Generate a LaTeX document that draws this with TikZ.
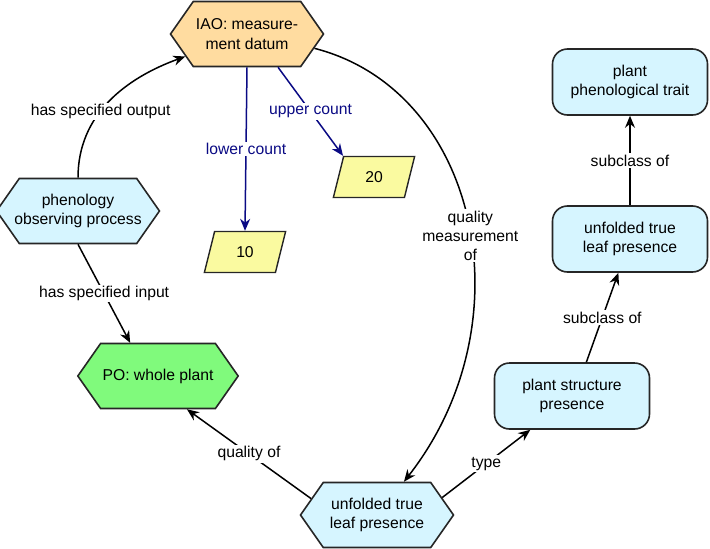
\documentclass[tikz,border=0pt]{standalone}
\usepackage{fontspec}
\setmainfont{Liberation Sans}
\usetikzlibrary{arrows.meta, shapes.geometric, shapes.symbols}
\definecolor{poorange}{HTML}{FFDCA0}
\definecolor{poblue}{HTML}{D6F5FF}
\definecolor{pogreen}{HTML}{80FA7C}
\definecolor{poyellow}{HTML}{FAFAA0}
\definecolor{ponavy}{HTML}{0A0A84}
\begin{document}
\begin{tikzpicture}[
  x=1pt, y=1pt,
  every node/.style={font=\fontsize{15.7}{19.3}\selectfont},
  hexbox/.style={signal, signal to=east and west, signal pointer angle=110, draw=black!85, line width=1.6pt, fill=#1, minimum width=153pt, minimum height=65pt, align=center, inner sep=2pt},
  roundbox/.style={rectangle, rounded corners=15pt, draw=black!85, line width=1.6pt, fill=poblue, minimum width=155pt, minimum height=66pt, align=center},
  valbox/.style={trapezium, trapezium left angle=76, trapezium right angle=104, draw=black!85, line width=1.4pt, fill=poyellow, minimum width=64pt, minimum height=41pt, inner sep=1pt},
  rel/.style={-{Stealth[length=12pt, width=10pt]}, line width=1.5pt},
  lbl/.style={fill=white, inner sep=1.5pt, align=center},
]
\useasboundingbox (0,0) rectangle (710,-549);

% Process side
\node[hexbox=poorange] (iao) at (247,-34) {IAO: measure-\\ment datum};
\node[hexbox=poblue, inner xsep=-5pt] (pheno) at (78,-211) {phenology\\observing process};
\node[hexbox=pogreen] (po) at (158,-376) {PO: whole plant};

% Counts
\node[valbox] (ten) at (245,-252) {10};
\node[valbox] (twenty) at (374,-177) {20};

% Quality and classes
\node[hexbox=poblue] (leafhex) at (377,-515) {unfolded true\\leaf presence};
\node[roundbox] (struct) at (572,-396) {plant structure\\presence};
\node[roundbox] (leafbox) at (630,-239) {unfolded true\\leaf presence};
\node[roundbox] (trait) at (630,-82) {plant\\phenological trait};

% Connections
\draw[rel] (pheno.north) to[out=90, in=200] node[lbl, pos=0.42] {has specified output} (iao);
\draw[rel] (pheno.south) -- node[lbl] {has specified input} (po.130);
\draw[rel, ponavy] (iao.south) -- node[lbl, text=ponavy] {lower count} (ten.north);
\draw[rel, ponavy] (iao.-47) -- node[lbl, text=ponavy] {upper count} (twenty.top left corner);
\draw[rel] (iao.-12) .. controls +(164,-42) and +(125,160) .. node[lbl, pos=0.53] {quality\\measurement\\of} (leafhex.51);
\draw[rel] (leafhex.166) -- node[lbl] {quality of} (po.-49);
\draw[rel] (leafhex.15) -- node[lbl] {type} (struct.219);
\draw[rel] (struct.67) -- node[lbl] {subclass of} (leafbox.251);
\draw[rel] (leafbox) -- node[lbl] {subclass of} (trait);

\end{tikzpicture}
\end{document}
